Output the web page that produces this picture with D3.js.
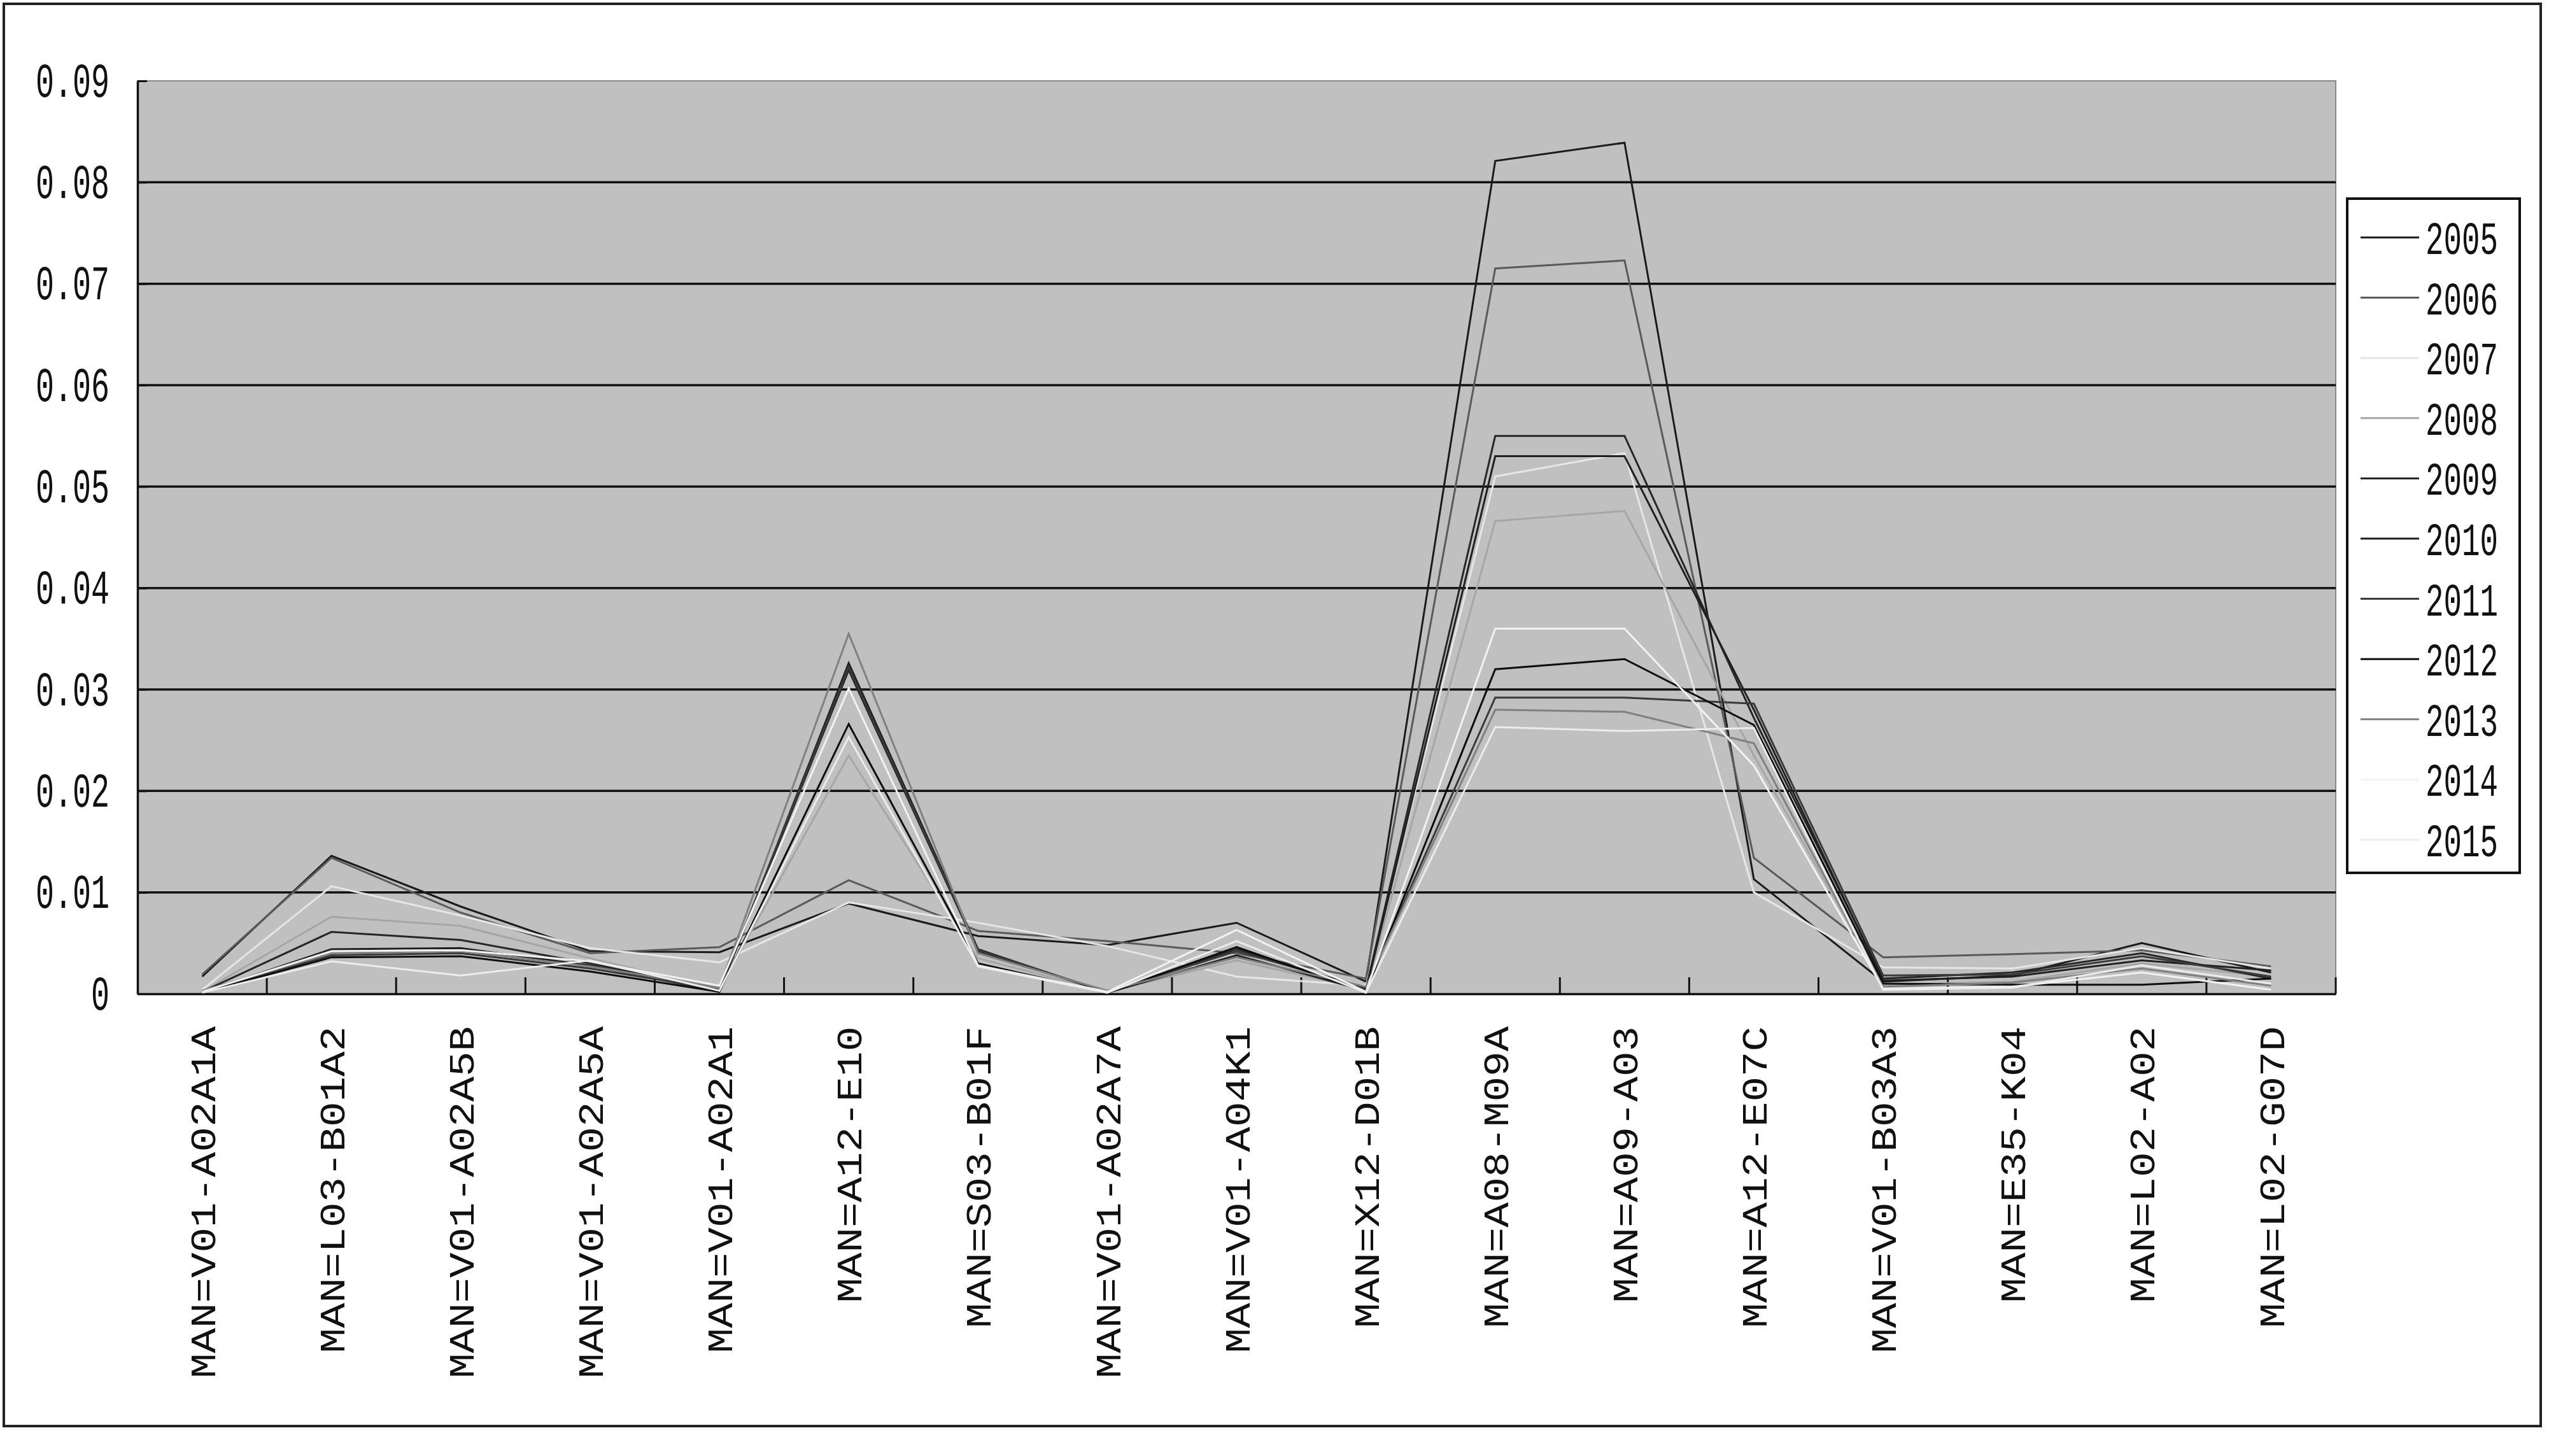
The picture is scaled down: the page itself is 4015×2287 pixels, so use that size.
<!DOCTYPE html>
<html>
<head>
<meta charset="utf-8">
<script src="https://cdn.jsdelivr.net/npm/d3@7"></script>
<style>
  html, body { margin: 0; padding: 0; background: #ffffff; }
  svg { display: block; }
</style>
</head>
<body>
<script>
// ---------------- DATA ----------------
const categories = [
  "MAN=V01-A02A1A", "MAN=L03-B01A2", "MAN=V01-A02A5B", "MAN=V01-A02A5A",
  "MAN=V01-A02A1", "MAN=A12-E10", "MAN=S03-B01F", "MAN=V01-A02A7A",
  "MAN=V01-A04K1", "MAN=X12-D01B", "MAN=A08-M09A", "MAN=A09-A03",
  "MAN=A12-E07C", "MAN=V01-B03A3", "MAN=E35-K04", "MAN=L02-A02", "MAN=L02-G07D"
];
const years = ["2005","2006","2007","2008","2009","2010","2011","2012","2013","2014","2015"];

const v2005 = [0.0017,0.0136,0.0086,0.0042,0.0041,0.0089,0.0057,0.0048,0.0070,0.0012,0.0821,0.0839,0.0113,0.0012,0.0018,0.0050,0.0021];
const v2006 = [0.0019,0.0134,0.0080,0.0040,0.0046,0.0112,0.0062,0.0052,0.0040,0.0015,0.0715,0.0723,0.0134,0.0036,0.0039,0.0043,0.0027];
const v2007 = [0.0004,0.0106,0.0077,0.0045,0.0031,0.0090,0.0070,0.0047,0.0017,0.0008,0.0510,0.0533,0.0100,0.0026,0.0025,0.0045,0.0025];
const v2008 = [0.0002,0.0076,0.0067,0.0035,0.0005,0.0235,0.0035,0.0002,0.0033,0.0004,0.0466,0.0476,0.0235,0.0009,0.0012,0.0030,0.0017];
const v2009 = [0.0002,0.0061,0.0053,0.0030,0.0003,0.0319,0.0042,0.0002,0.0044,0.0005,0.0550,0.0550,0.0272,0.0015,0.0021,0.0040,0.0015];
const v2010 = [0.0001,0.0044,0.0045,0.0028,0.0002,0.0326,0.0044,0.0001,0.0038,0.0003,0.0530,0.0530,0.0280,0.0013,0.0017,0.0033,0.0023];
const v2011 = [0.0002,0.0038,0.0040,0.0025,0.0004,0.0322,0.0043,0.0002,0.0042,0.0006,0.0292,0.0292,0.0286,0.0018,0.0019,0.0037,0.0017];
const v2012 = [0.0001,0.0036,0.0037,0.0022,0.0002,0.0266,0.0030,0.0001,0.0046,0.0002,0.0320,0.0330,0.0265,0.0010,0.0009,0.0009,0.0015];
const v2013 = [0.0003,0.0040,0.0042,0.0027,0.0006,0.0355,0.0040,0.0003,0.0036,0.0007,0.0280,0.0278,0.0247,0.0007,0.0011,0.0025,0.0008];
const v2014 = [0.0002,0.0042,0.0043,0.0032,0.0008,0.0301,0.0028,0.0002,0.0063,0.0002,0.0360,0.0360,0.0225,0.0005,0.0007,0.0021,0.0004];
const v2015 = [0.0001,0.0032,0.0018,0.0033,0.0003,0.0253,0.0027,0.0001,0.0052,0.0001,0.0263,0.0259,0.0262,0.0004,0.0006,0.0028,0.0010];

const seriesValues = [v2005,v2006,v2007,v2008,v2009,v2010,v2011,v2012,v2013,v2014,v2015];
const seriesColors = ["#1a1a1a","#5a5a5a","#e6e6e6","#a6a6a6","#262626","#202020","#3a3a3a","#0d0d0d","#808080","#f2f2f2","#ececec"];
const yTicks = [0,0.01,0.02,0.03,0.04,0.05,0.06,0.07,0.08,0.09];

// ---------------- LAYOUT ----------------
const W = 4015, H = 2287;
const plot = { left: 216, right: 3669, top: 127, bottom: 1561 };
const FONT = "'Liberation Mono', 'DejaVu Sans Mono', monospace";

const svg = d3.select("body").append("svg")
  .attr("width", W).attr("height", H)
  .attr("viewBox", `0 0 ${W} ${H}`);

svg.append("rect").attr("x",0).attr("y",0).attr("width",W).attr("height",H).attr("fill","#ffffff");

// outer frame
svg.append("rect")
  .attr("x", 6).attr("y", 6).attr("width", 3985).attr("height", 2234)
  .attr("fill", "none").attr("stroke", "#222").attr("stroke-width", 4);

const x = d3.scaleBand().domain(categories).range([plot.left, plot.right]).padding(0);
const y = d3.scaleLinear().domain([0, 0.09]).range([plot.bottom, plot.top]);

// plot area
svg.append("rect")
  .attr("x", plot.left).attr("y", plot.top)
  .attr("width", plot.right - plot.left).attr("height", plot.bottom - plot.top)
  .attr("fill", "#c0c0c0").attr("stroke", "#8a8a8a").attr("stroke-width", 2);

// gridlines
svg.append("g").selectAll("line")
  .data(yTicks.filter(d => d > 0 && d < 0.09))
  .join("line")
  .attr("x1", plot.left).attr("x2", plot.right)
  .attr("y1", d => y(d)).attr("y2", d => y(d))
  .attr("stroke", "#111").attr("stroke-width", 3.5);

// y axis
const yAxis = svg.append("g")
  .attr("transform", `translate(${plot.left},0)`)
  .call(d3.axisLeft(y).tickValues(yTicks).tickSizeInner(-15).tickSizeOuter(0).tickPadding(44)
    .tickFormat(d => d === 0 ? "0" : d.toFixed(2)));
yAxis.select(".domain").attr("stroke", "#111").attr("stroke-width", 3.5);
yAxis.selectAll(".tick line").attr("stroke", "#111").attr("stroke-width", 3);
yAxis.selectAll(".tick text")
  .attr("font-family", FONT).attr("font-size", 76).attr("fill", "#111")
  .attr("textLength", function() { return this.textContent.length * 29; })
  .attr("lengthAdjust", "spacingAndGlyphs");

// x axis
const xAxis = svg.append("g")
  .attr("transform", `translate(0,${plot.bottom})`)
  .call(d3.axisBottom(x).tickSize(0).tickPadding(0));
xAxis.select(".domain").attr("stroke", "#111").attr("stroke-width", 3.5);
xAxis.selectAll(".tick text")
  .attr("font-family", FONT).attr("font-size", 56).attr("fill", "#111")
  .attr("transform", "rotate(-90)")
  .attr("text-anchor", "end")
  .attr("x", -51).attr("y", 0).attr("dy", "0.36em")
  .attr("textLength", function() { return this.textContent.length * 39.5; })
  .attr("lengthAdjust", "spacingAndGlyphs");

// category boundary ticks (inside, pointing up)
const boundaries = categories.slice(1).map(c => x(c)).concat([x.range()[1]]);
svg.append("g").selectAll("line")
  .data(boundaries)
  .join("line")
  .attr("x1", d => d).attr("x2", d => d)
  .attr("y1", plot.bottom).attr("y2", plot.bottom - 26)
  .attr("stroke", "#111").attr("stroke-width", 3);

// series lines
const line = d3.line()
  .x((d, i) => x(categories[i]) + x.bandwidth() / 2)
  .y(d => y(d));

svg.append("g").selectAll("path")
  .data(seriesValues)
  .join("path")
  .attr("d", d => line(d))
  .attr("fill", "none")
  .attr("stroke", (d, i) => seriesColors[i])
  .attr("stroke-width", 3)
  .attr("stroke-linejoin", "miter");

// legend
const legend = svg.append("g");
legend.append("rect")
  .attr("x", 3687).attr("y", 312).attr("width", 271).attr("height", 1059)
  .attr("fill", "#fff").attr("stroke", "#111").attr("stroke-width", 4);
const ly = d3.scaleLinear().domain([0, years.length - 1]).range([373, 1319]);
const items = legend.selectAll("g.item").data(years).join("g").attr("class", "item")
  .attr("transform", (d, i) => `translate(0,${ly(i)})`);
items.append("line")
  .attr("x1", 3708).attr("x2", 3800).attr("y1", 0).attr("y2", 0)
  .attr("stroke", (d, i) => seriesColors[i]).attr("stroke-width", 3);
items.append("text")
  .attr("x", 3810).attr("y", 0).attr("dy", "0.36em")
  .attr("font-family", FONT).attr("font-size", 72).attr("fill", "#111")
  .attr("textLength", 114).attr("lengthAdjust", "spacingAndGlyphs")
  .text(d => d);
</script>
</body>
</html>
